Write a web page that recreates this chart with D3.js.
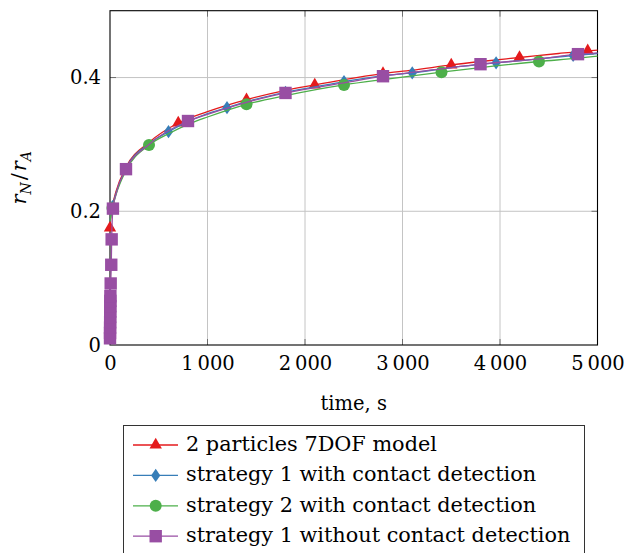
<!DOCTYPE html>
<html>
<head>
<meta charset="utf-8">
<script src="https://cdn.jsdelivr.net/npm/d3@7"></script>
<style>
    html, body { margin: 0; padding: 0; background: #fff; }
    svg text { font-family: "DejaVu Serif", serif; fill: #000; }
</style>
</head>
<body>
<div id="chart"></div>
<script>
const seriesNames = ["2 particles 7DOF model",
                     "strategy 1 with contact detection",
                     "strategy 2 with contact detection",
                     "strategy 1 without contact detection"];
const seriesColors = ["#e41a1c", "#377eb8", "#4daf4a", "#984ea3"];
const seriesMarks = ["triangle", "diamond", "circle", "square"];

// red: 2 particles 7DOF model
const redTime = [0, 10, 27, 60, 164, 400, 700, 1000, 1400, 1800, 2100, 2400, 2800, 3100, 3500, 3800, 4200, 4600, 4900, 5000];
const redValue = [0.175, 0.195, 0.21, 0.229, 0.266, 0.303, 0.332, 0.349, 0.367, 0.381, 0.389, 0.397, 0.406, 0.411, 0.419, 0.424, 0.430, 0.436, 0.440, 0.441];
const redMarks = [0, 700, 1400, 2100, 2800, 3500, 4200, 4900];

// blue: strategy 1 with contact detection
const blueTime = [0, 25, 60, 164, 400, 600, 800, 1000, 1200, 1400, 1800, 2100, 2400, 2800, 3100, 3500, 3960, 4400, 4750, 5000];
const blueValue = [0.185, 0.207, 0.226, 0.264, 0.301, 0.319, 0.334, 0.346, 0.355, 0.364, 0.378, 0.386, 0.394, 0.403, 0.407, 0.415, 0.422, 0.428, 0.433, 0.436];
const blueMarks = [25, 600, 1200, 1800, 2400, 3100, 3960, 4750];

// green: strategy 2 with contact detection
const greenTime = [0, 25, 60, 164, 400, 600, 800, 1000, 1400, 1800, 2400, 2800, 3400, 3800, 4400, 4800, 5000];
const greenValue = [0.185, 0.205, 0.224, 0.261, 0.299, 0.316, 0.330, 0.341, 0.360, 0.373, 0.389, 0.397, 0.408, 0.415, 0.424, 0.429, 0.432];
const greenMarks = [25, 400, 1400, 2400, 3400, 4400];

// purple: strategy 1 without contact detection
const purpleTime = [0, 0.5, 1, 1.5, 2, 2.5, 3, 3.5, 4, 7, 13, 17, 30, 60, 164, 400, 800, 1000, 1400, 1800, 2400, 2800, 3400, 3800, 4400, 4800, 5000];
const purpleValue = [0.01, 0.018, 0.026, 0.034, 0.042, 0.05, 0.058, 0.066, 0.073, 0.092, 0.12, 0.158, 0.204, 0.225, 0.263, 0.300, 0.335, 0.345, 0.363, 0.377, 0.392, 0.402, 0.413, 0.420, 0.428, 0.435, 0.437];
const purpleMarks = [0, 0.5, 1, 1.5, 2, 2.5, 3, 3.5, 4, 7, 13, 17, 30, 164, 800, 1800, 2800, 3800, 4800];

const xTicks = [0, 1000, 2000, 3000, 4000, 5000];
const xTickLabels = ["0", "1\u2009000", "2\u2009000", "3\u2009000", "4\u2009000", "5\u2009000"];
const yTicks = [0, 0.2, 0.4];
const yTickLabels = ["0", "0.2", "0.4"];

const series = [
    {time: redTime, value: redValue, marks: redMarks},
    {time: blueTime, value: blueValue, marks: blueMarks},
    {time: greenTime, value: greenValue, marks: greenMarks},
    {time: purpleTime, value: purpleValue, marks: purpleMarks}
].map((s, i) => ({
    name: seriesNames[i],
    color: seriesColors[i],
    mark: seriesMarks[i],
    points: s.time.map((t, j) => ({t: t, v: s.value[j]})),
    markPoints: s.time.map((t, j) => ({t: t, v: s.value[j]}))
                      .filter(p => s.marks.includes(p.t))
}));

const width = 625, height = 553;
const plot = {left: 110, right: 597.5, top: 10.7, bottom: 345};

const svg = d3.select("#chart")
              .append("svg")
              .attr("width", width)
              .attr("height", height);

const x = d3.scaleLinear().domain([0, 5000]).range([plot.left, plot.right]);
const y = d3.scaleLinear().domain([0, 0.5]).range([plot.bottom, plot.top]);

// grid
svg.append("g")
   .attr("stroke", "#c4c4c4")
   .attr("stroke-width", 1)
   .selectAll("line.xgrid")
   .data(xTicks.slice(1, -1))
   .enter()
   .append("line")
   .attr("x1", d => x(d)).attr("x2", d => x(d))
   .attr("y1", plot.top).attr("y2", plot.bottom);

svg.append("g")
   .attr("stroke", "#c4c4c4")
   .attr("stroke-width", 1)
   .selectAll("line.ygrid")
   .data(yTicks.slice(1))
   .enter()
   .append("line")
   .attr("x1", plot.left).attr("x2", plot.right)
   .attr("y1", d => y(d)).attr("y2", d => y(d));

// inner tick marks on all four sides
const tickLen = 6;
const ticks = svg.append("g").attr("stroke", "#6e6e6e").attr("stroke-width", 1);
xTicks.slice(1, -1).forEach(d => {
    ticks.append("line").attr("x1", x(d)).attr("x2", x(d)).attr("y1", plot.bottom).attr("y2", plot.bottom - tickLen);
    ticks.append("line").attr("x1", x(d)).attr("x2", x(d)).attr("y1", plot.top).attr("y2", plot.top + tickLen);
});
yTicks.slice(1).forEach(d => {
    ticks.append("line").attr("x1", plot.left).attr("x2", plot.left + tickLen).attr("y1", y(d)).attr("y2", y(d));
    ticks.append("line").attr("x1", plot.right).attr("x2", plot.right - tickLen).attr("y1", y(d)).attr("y2", y(d));
});

// tick labels through axes
const xAxis = svg.append("g")
                 .attr("transform", `translate(0,${plot.bottom})`)
                 .call(d3.axisBottom(x)
                         .tickValues(xTicks)
                         .tickSize(0)
                         .tickPadding(11)
                         .tickFormat((d, i) => xTickLabels[i]));
xAxis.select(".domain").remove();
xAxis.selectAll("text").attr("font-size", 19.5).attr("font-family", "DejaVu Serif");

const yAxis = svg.append("g")
                 .attr("transform", `translate(${plot.left},0)`)
                 .call(d3.axisLeft(y)
                         .tickValues(yTicks)
                         .tickSize(0)
                         .tickPadding(9)
                         .tickFormat((d, i) => yTickLabels[i]));
yAxis.select(".domain").remove();
yAxis.selectAll("text").attr("font-size", 19.5).attr("font-family", "DejaVu Serif");

// frame
svg.append("rect")
   .attr("x", plot.left).attr("y", plot.top)
   .attr("width", plot.right - plot.left)
   .attr("height", plot.bottom - plot.top)
   .attr("fill", "none")
   .attr("stroke", "#000")
   .attr("stroke-width", 1.1);

// marker shapes
function markPath(type) {
    if (type === "triangle") return "M0,-7.2L6.2,3.6L-6.2,3.6Z";
    if (type === "diamond") return "M0,-6.6L4.6,0L0,6.6L-4.6,0Z";
    if (type === "square") return "M-6.2,-6.2H6.2V6.2H-6.2Z";
    return d3.symbol(d3.symbolCircle, Math.PI * 36)();
}

const line = d3.line()
               .x(p => x(p.t))
               .y(p => y(p.v))
               .curve(d3.curveMonotoneX);

series.forEach(s => {
    const g = svg.append("g");
    g.append("path")
     .datum(s.points)
     .attr("d", line)
     .attr("fill", "none")
     .attr("stroke", s.color)
     .attr("stroke-width", 1.3);
    g.selectAll("path.mark")
     .data(s.markPoints)
     .enter()
     .append("path")
     .attr("class", "mark")
     .attr("d", markPath(s.mark))
     .attr("transform", p => `translate(${x(p.t)},${y(p.v)})`)
     .attr("fill", s.color);
});

// axis titles
svg.append("text")
   .attr("x", (plot.left + plot.right) / 2)
   .attr("y", 410)
   .attr("text-anchor", "middle")
   .attr("font-size", 19.5)
   .text("time, s");

const yTitle = svg.append("text")
                  .attr("transform", `translate(26,${(plot.top + plot.bottom) / 2}) rotate(-90)`)
                  .attr("text-anchor", "middle")
                  .attr("font-size", 21);
yTitle.append("tspan").attr("font-style", "italic").text("r");
yTitle.append("tspan").attr("font-style", "italic").attr("font-size", 14).attr("dy", 5).text("N");
yTitle.append("tspan").attr("dy", -5).attr("dx", 2).text("/");
yTitle.append("tspan").attr("font-style", "italic").attr("dx", 2).text("r");
yTitle.append("tspan").attr("font-style", "italic").attr("font-size", 14).attr("dy", 5).text("A");

// legend
const legend = svg.append("g");
legend.append("rect")
      .attr("x", 123.5).attr("y", 425.5)
      .attr("width", 461).attr("height", 140)
      .attr("fill", "#fff")
      .attr("stroke", "#333")
      .attr("stroke-width", 1);

const rows = legend.selectAll("g.row")
                   .data(series)
                   .enter()
                   .append("g")
                   .attr("class", "row")
                   .attr("transform", (s, i) => `translate(0,${445 + i * 30.4})`);
rows.append("line")
    .attr("x1", 133).attr("x2", 178)
    .attr("stroke", s => s.color)
    .attr("stroke-width", 1.3);
rows.append("path")
    .attr("d", s => markPath(s.mark))
    .attr("transform", "translate(155.7,0)")
    .attr("fill", s => s.color);
rows.append("text")
    .attr("x", 186)
    .attr("y", 6)
    .attr("font-size", 20.8)
    .text(s => s.name);
</script>
</body>
</html>
